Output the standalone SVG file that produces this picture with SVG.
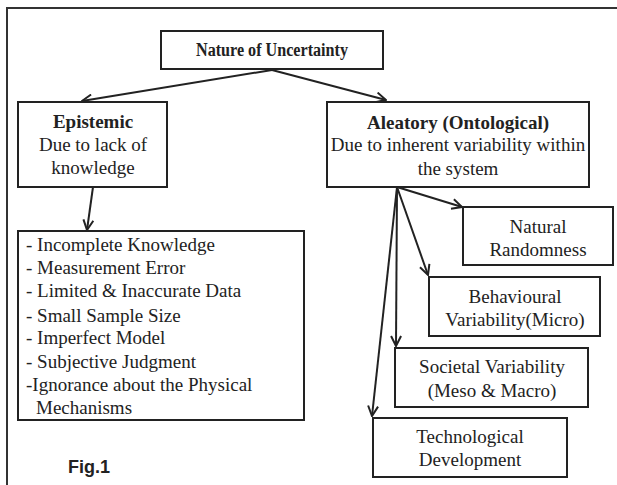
<svg xmlns="http://www.w3.org/2000/svg" width="617" height="485" viewBox="0 0 617 485">
<style>
.box{fill:#fff;stroke:#222;stroke-width:2}
.t{font-family:"Liberation Serif","Times New Roman",serif;font-size:19px;fill:#222;text-anchor:middle}
.b{font-weight:bold}
.l{font-family:"Liberation Serif","Times New Roman",serif;font-size:19px;fill:#222}
.c{stroke:#222;stroke-width:2;fill:none;marker-end:url(#ah)}
</style>
<defs>
<marker id="ah" viewBox="0 0 12 12" refX="11" refY="6" markerWidth="12" markerHeight="12" markerUnits="userSpaceOnUse" orient="auto">
<path d="M1,1 L11,6 L1,11" fill="none" stroke="#222" stroke-width="2"/>
</marker>
</defs>
<rect width="617" height="485" fill="#fff"/>
<path d="M7,485 V8 H617" fill="none" stroke="#333" stroke-width="2"/>
<g id="connectors">
<path class="c" d="M272,70 L82,101"/>
<path class="c" d="M272,70 L386,100"/>
<path class="c" d="M93,187 L87,230"/>
<path class="c" d="M397,187 L462,207"/>
<path class="c" d="M397,187 L428,275"/>
<path class="c" d="M397,187 L396,346"/>
<path class="c" d="M397,187 L372,416"/>
</g>
<g id="nature">
<rect class="box" x="161" y="31" width="222" height="38"/>
<text class="t b" x="272" y="56" style="font-size:18px" textLength="152" lengthAdjust="spacingAndGlyphs">Nature of Uncertainty</text>
</g>
<g id="epistemic">
<rect class="box" x="18" y="102" width="149" height="85"/>
<text class="t b" x="93" y="128">Epistemic</text>
<text class="t" x="93" y="151">Due to lack of</text>
<text class="t" x="93" y="174">knowledge</text>
</g>
<g id="aleatory">
<rect class="box" x="327" y="102" width="262" height="85"/>
<text class="t b" x="458" y="129">Aleatory (Ontological)</text>
<text class="t" x="458" y="151">Due to inherent variability within</text>
<text class="t" x="458" y="175">the system</text>
</g>
<g id="epistemic-list">
<rect class="box" x="18" y="231" width="286" height="189"/>
<text class="l" x="26" y="251">- Incomplete Knowledge</text>
<text class="l" x="26" y="274">- Measurement Error</text>
<text class="l" x="26" y="297">- Limited &amp; Inaccurate Data</text>
<text class="l" x="26" y="322">- Small Sample Size</text>
<text class="l" x="26" y="344">- Imperfect Model</text>
<text class="l" x="26" y="368">- Subjective Judgment</text>
<text class="l" x="26" y="391">-Ignorance about the Physical</text>
<text class="l" x="36" y="414">Mechanisms</text>
</g>
<g id="natural">
<rect class="box" x="463" y="207" width="150" height="58"/>
<text class="t" x="538" y="233">Natural</text>
<text class="t" x="538" y="256">Randomness</text>
</g>
<g id="behavioural">
<rect class="box" x="429" y="277" width="171" height="59"/>
<text class="t" x="515" y="303">Behavioural</text>
<text class="t" x="515" y="326">Variability(Micro)</text>
</g>
<g id="societal">
<rect class="box" x="395" y="348" width="193" height="59"/>
<text class="t" x="492" y="373">Societal Variability</text>
<text class="t" x="492" y="397">(Meso &amp; Macro)</text>
</g>
<g id="technological">
<rect class="box" x="373" y="418" width="194" height="59"/>
<text class="t" x="470" y="443">Technological</text>
<text class="t" x="470" y="466">Development</text>
</g>
<g id="fig">
<text x="68" y="473" font-family="Liberation Sans, Arial, sans-serif" font-size="18" font-weight="bold" fill="#222">Fig.1</text>
</g>
</svg>
